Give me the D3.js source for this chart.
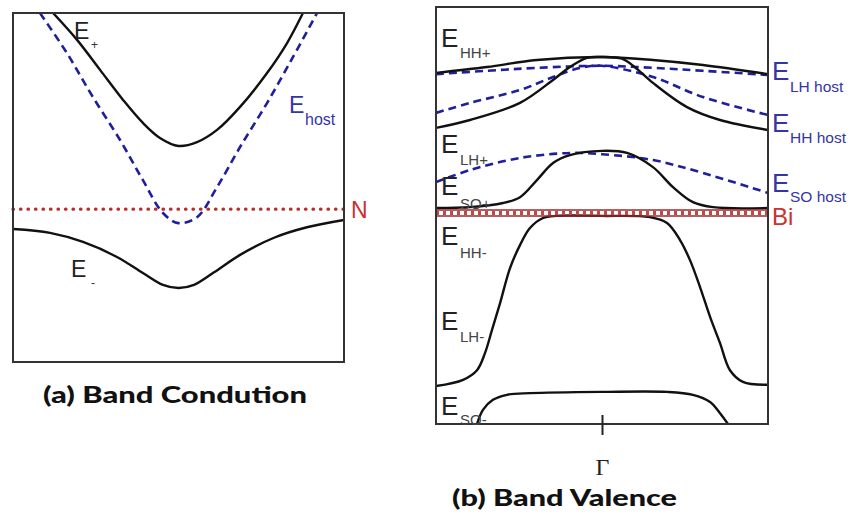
<!DOCTYPE html>
<html><head><meta charset="utf-8">
<script src="https://cdn.jsdelivr.net/npm/d3@7"></script>
<style>body{margin:0;background:#fff}svg{display:block}</style>
</head><body><svg id="c" width="858" height="518"></svg>
<script>
// ---- Panel (a): conduction band, k in [-1,1], energy in arbitrary units [0,10]
const condEplus = [[-0.758,10.0],[-0.613,9.23],[-0.474,8.37],[-0.335,7.51],[-0.215,6.85],[-0.112,6.42],[0,6.19],[0.112,6.30],[0.233,6.65],[0.372,7.31],[0.535,8.28],[0.656,9.14],[0.752,10.0]];
const condEhost = [[-0.837,10.0],[-0.674,8.85],[-0.517,7.59],[-0.353,6.36],[-0.215,5.21],[-0.094,4.27],[0,3.98],[0.112,4.15],[0.233,5.01],[0.372,6.16],[0.535,7.42],[0.692,8.74],[0.837,10.0]];
const condEminus = [[-1.0,3.81],[-0.776,3.70],[-0.577,3.44],[-0.372,3.01],[-0.215,2.55],[-0.094,2.21],[0,2.12],[0.094,2.21],[0.215,2.57],[0.372,3.07],[0.577,3.56],[0.776,3.86],[1.0,4.07]];
const levelN = 4.38;

// ---- Panel (b): valence band
const valHHplus = [[-1,8.42],[-0.693,8.56],[-0.392,8.73],[0,8.80],[0.307,8.73],[0.608,8.61],[1,8.39]];
const valLHhost = [[-1,8.39],[-0.693,8.47],[-0.392,8.54],[0,8.59],[0.307,8.54],[0.608,8.47],[1,8.37]];
const valHHhost = [[-1,7.46],[-0.795,7.70],[-0.494,8.01],[-0.295,8.32],[-0.133,8.54],[0,8.59],[0.307,8.32],[0.608,7.84],[1,7.41]];
const valLHplus = [[-1,7.10],[-0.795,7.29],[-0.494,7.70],[-0.295,8.25],[-0.193,8.56],[-0.090,8.78],[0,8.80],[0.120,8.76],[0.200,8.55],[0.307,8.18],[0.512,7.60],[0.711,7.29],[1,7.05]];
const valSOhost = [[-1,5.80],[-0.795,6.09],[-0.494,6.38],[-0.193,6.50],[0,6.47],[0.307,6.33],[0.608,6.02],[1,5.54]];
const valSOplus = [[-1,5.18],[-0.795,5.20],[-0.596,5.30],[-0.494,5.44],[-0.392,5.85],[-0.295,6.26],[-0.193,6.45],[0,6.55],[0.151,6.50],[0.307,6.16],[0.428,5.68],[0.548,5.32],[0.669,5.20],[1,5.18]];
const valHHminus = [[-1,0.91],[-0.837,1.06],[-0.753,1.29],[-0.705,1.70],[-0.663,2.25],[-0.614,2.90],[-0.554,3.74],[-0.494,4.29],[-0.434,4.70],[-0.355,4.94],[-0.271,4.99],[0,4.99],[0.289,4.96],[0.392,4.82],[0.470,4.41],[0.530,3.93],[0.590,3.29],[0.651,2.57],[0.711,1.94],[0.771,1.29],[0.849,1.01],[1.0,0.94]];
const valSOminus = [[-0.753,0],[-0.717,0.34],[-0.657,0.58],[-0.572,0.70],[-0.434,0.74],[0,0.77],[0.392,0.77],[0.548,0.70],[0.651,0.53],[0.711,0.26],[0.759,0]];
const levelBi = 5.06;
const kTicks = [0];
const kTickLabels = ["Γ"];

const svg = d3.select("#c");
const black = "#111", blue = "#1f1f9c", blueTxt = "#3535a6", red = "#c83232";

function panel(id, x0, x1, y0, y1) {
  const x = d3.scaleLinear().domain([-1,1]).range([x0,x1]);
  const y = d3.scaleLinear().domain([0,10]).range([y1,y0]);
  svg.append("clipPath").attr("id", id).append("rect")
    .attr("x", x0).attr("y", y0).attr("width", x1-x0).attr("height", y1-y0);
  const g = svg.append("g").attr("clip-path", `url(#${id})`);
  const line = d3.line().x(d=>x(d[0])).y(d=>y(d[1])).curve(d3.curveCatmullRom.alpha(0.5));
  return {x, y, g, line, x0, x1, y0, y1};
}

function txt(x, y, s, size, fill, opts={}) {
  const t = svg.append("text").attr("x", x).attr("y", y).text(s)
    .attr("font-family", opts.family || "'Liberation Sans', Arial, sans-serif")
    .attr("font-size", size).attr("fill", fill);
  if (opts.weight) t.attr("font-weight", opts.weight);
  if (opts.anchor) t.attr("text-anchor", opts.anchor);
  if (opts.len) t.attr("textLength", opts.len).attr("lengthAdjust", "spacingAndGlyphs");
  return t;
}

// ===== Panel (a)
const A = panel("clipA", 13, 344, 13, 362);
A.g.append("path").datum(condEhost).attr("d", A.line).attr("fill","none")
  .attr("stroke", blue).attr("stroke-width", 2.6).attr("stroke-dasharray", "8,5");
A.g.append("path").datum(condEplus).attr("d", A.line).attr("fill","none")
  .attr("stroke", black).attr("stroke-width", 2.4);
A.g.append("path").datum(condEminus).attr("d", A.line).attr("fill","none")
  .attr("stroke", black).attr("stroke-width", 2.4);
svg.append("line").attr("x1", A.x(-1)).attr("x2", A.x(1)).attr("y1", A.y(levelN)).attr("y2", A.y(levelN))
  .attr("stroke", "#b82c2c").attr("stroke-width", 3.2).attr("stroke-linecap","round").attr("stroke-dasharray","0.5,7");
svg.append("rect").attr("x", 13).attr("y", 13).attr("width", 331).attr("height", 349)
  .attr("fill","none").attr("stroke","#333").attr("stroke-width", 2);

txt(74, 39, "E", 23, "#222");
txt(91, 49, "+", 12, "#333");
txt(71, 277, "E", 23, "#222");
txt(91, 287, "-", 12, "#333");
txt(289, 113, "E", 23, blueTxt);
txt(305, 125, "host", 16, blueTxt);
txt(351, 218, "N", 23, red);

// ===== Panel (b)
const B = panel("clipB", 436, 768, 7, 424);
[valLHhost, valHHhost, valSOhost].forEach(d => {
  B.g.append("path").datum(d).attr("d", B.line).attr("fill","none")
    .attr("stroke", blue).attr("stroke-width", 2.6).attr("stroke-dasharray", "8,5");
});
[valHHplus, valLHplus, valSOplus, valHHminus, valSOminus].forEach(d => {
  B.g.append("path").datum(d).attr("d", B.line).attr("fill","none")
    .attr("stroke", black).attr("stroke-width", 2.4);
});
const yBi = B.y(levelBi);
[-3, 3].forEach(o => svg.append("line").attr("x1", B.x(-1)).attr("x2", B.x(1))
  .attr("y1", yBi+o).attr("y2", yBi+o).attr("stroke", "#9a2a2a").attr("stroke-width", 1.3));
svg.append("line").attr("x1", B.x(-1)).attr("x2", B.x(1)).attr("y1", yBi).attr("y2", yBi)
  .attr("stroke", "#c04848").attr("stroke-width", 4).attr("stroke-dasharray", "3,4");
svg.append("rect").attr("x", 436).attr("y", 7).attr("width", 332).attr("height", 417)
  .attr("fill","none").attr("stroke","#333").attr("stroke-width", 2);

// Gamma tick via axis
const ax = svg.append("g").attr("transform", `translate(0,${B.y1})`)
  .call(d3.axisBottom(B.x).tickValues(kTicks).tickFormat((d,i)=>kTickLabels[i]).tickSize(11));
ax.select(".domain").remove();
ax.selectAll(".tick line").attr("y1", -9).attr("stroke", "#222").attr("stroke-width", 2);
ax.selectAll(".tick text").attr("y", 51).attr("dy", 0).attr("font-size", 24)
  .attr("font-family", "'Liberation Serif', 'Times New Roman', serif").attr("fill", "#222");

// left labels
const leftLabels = [["E","HH+",47,58],["E","LH+",153,165],["E","SO+",195,209],["E","HH-",245,258],["E","LH-",330,342],["E","SO-",415,425]];
leftLabels.forEach(l => { txt(441, l[2], l[0], 26, "#222"); txt(460, l[3], l[1], 15, "#444"); });
// right labels
const rightLabels = [["E","LH host",80,92],["E","HH host",132,143],["E","SO host",192,202]];
rightLabels.forEach(l => { txt(772, l[2], l[0], 26, blueTxt); txt(790, l[3], l[1], 15.5, blueTxt); });
txt(772, 225, "Bi", 24, red);

// captions
txt(43, 403, "(a) Band Condution", 23, "#111", {family:"Lato, 'Open Sans', sans-serif", weight:"900", len:264});
txt(452, 506, "(b) Band Valence", 23, "#111", {family:"Lato, 'Open Sans', sans-serif", weight:"900", len:225});
</script></body></html>
